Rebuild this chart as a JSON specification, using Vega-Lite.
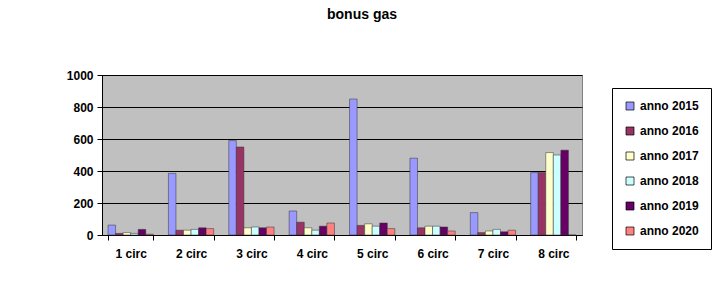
{
  "$schema": "https://vega.github.io/schema/vega-lite/v6.json",
  "autosize": "none",
  "width": 480,
  "height": 160,
  "padding": {"left": 102, "top": 75, "right": 141, "bottom": 48},
  "background": "white",
  "title": {"text": "bonus  gas", "font": "Liberation Sans", "fontSize": 14, "fontWeight": "bold", "color": "black", "anchor": "middle", "dx": 20, "offset": 47},
  "config": {
    "view": {"fill": "#C0C0C0", "stroke": "#808080", "strokeWidth": 1},
    "font": "Liberation Sans"
  },
  "data": {"values": [
    {"circ": "1 circ", "anno": "anno 2015", "v": 62},
    {"circ": "1 circ", "anno": "anno 2016", "v": 10},
    {"circ": "1 circ", "anno": "anno 2017", "v": 15},
    {"circ": "1 circ", "anno": "anno 2018", "v": 10},
    {"circ": "1 circ", "anno": "anno 2019", "v": 35},
    {"circ": "1 circ", "anno": "anno 2020", "v": 5},
    {"circ": "2 circ", "anno": "anno 2015", "v": 385},
    {"circ": "2 circ", "anno": "anno 2016", "v": 30},
    {"circ": "2 circ", "anno": "anno 2017", "v": 30},
    {"circ": "2 circ", "anno": "anno 2018", "v": 35},
    {"circ": "2 circ", "anno": "anno 2019", "v": 45},
    {"circ": "2 circ", "anno": "anno 2020", "v": 40},
    {"circ": "3 circ", "anno": "anno 2015", "v": 590},
    {"circ": "3 circ", "anno": "anno 2016", "v": 550},
    {"circ": "3 circ", "anno": "anno 2017", "v": 45},
    {"circ": "3 circ", "anno": "anno 2018", "v": 50},
    {"circ": "3 circ", "anno": "anno 2019", "v": 45},
    {"circ": "3 circ", "anno": "anno 2020", "v": 50},
    {"circ": "4 circ", "anno": "anno 2015", "v": 150},
    {"circ": "4 circ", "anno": "anno 2016", "v": 80},
    {"circ": "4 circ", "anno": "anno 2017", "v": 45},
    {"circ": "4 circ", "anno": "anno 2018", "v": 30},
    {"circ": "4 circ", "anno": "anno 2019", "v": 55},
    {"circ": "4 circ", "anno": "anno 2020", "v": 75},
    {"circ": "5 circ", "anno": "anno 2015", "v": 850},
    {"circ": "5 circ", "anno": "anno 2016", "v": 60},
    {"circ": "5 circ", "anno": "anno 2017", "v": 70},
    {"circ": "5 circ", "anno": "anno 2018", "v": 55},
    {"circ": "5 circ", "anno": "anno 2019", "v": 75},
    {"circ": "5 circ", "anno": "anno 2020", "v": 40},
    {"circ": "6 circ", "anno": "anno 2015", "v": 480},
    {"circ": "6 circ", "anno": "anno 2016", "v": 45},
    {"circ": "6 circ", "anno": "anno 2017", "v": 55},
    {"circ": "6 circ", "anno": "anno 2018", "v": 55},
    {"circ": "6 circ", "anno": "anno 2019", "v": 50},
    {"circ": "6 circ", "anno": "anno 2020", "v": 25},
    {"circ": "7 circ", "anno": "anno 2015", "v": 140},
    {"circ": "7 circ", "anno": "anno 2016", "v": 15},
    {"circ": "7 circ", "anno": "anno 2017", "v": 25},
    {"circ": "7 circ", "anno": "anno 2018", "v": 35},
    {"circ": "7 circ", "anno": "anno 2019", "v": 20},
    {"circ": "7 circ", "anno": "anno 2020", "v": 30},
    {"circ": "8 circ", "anno": "anno 2015", "v": 390},
    {"circ": "8 circ", "anno": "anno 2016", "v": 390},
    {"circ": "8 circ", "anno": "anno 2017", "v": 515},
    {"circ": "8 circ", "anno": "anno 2018", "v": 500},
    {"circ": "8 circ", "anno": "anno 2019", "v": 530},
    {"circ": "8 circ", "anno": "anno 2020", "v": 0}
  ]},
  "mark": {"type": "bar", "stroke": "#333333", "strokeWidth": 0.5},
  "encoding": {
    "x": {"field": "circ", "type": "nominal", "title": null,
      "scale": {"paddingInner": 0.25, "paddingOuter": 0.1},
      "axis": {"labelAngle": 0, "labelFont": "Liberation Sans", "labelFontSize": 12, "labelFontWeight": "bold", "labelColor": "black", "domainColor": "black", "tickColor": "black", "tickBand": "extent", "labelPadding": 8, "grid": false}},
    "xOffset": {"field": "anno", "type": "nominal", "scale": {"paddingInner": 0}},
    "y": {"field": "v", "type": "quantitative", "title": null,
      "scale": {"domain": [0, 1000]},
      "axis": {"values": [0, 200, 400, 600, 800, 1000], "format": "d", "labelFont": "Liberation Sans", "labelFontSize": 12, "labelFontWeight": "bold", "labelColor": "black", "domainColor": "black", "tickColor": "black", "gridColor": "black", "gridWidth": 1, "labelPadding": 4}},
    "color": {"field": "anno", "type": "nominal", "title": null,
      "scale": {"domain": ["anno 2015", "anno 2016", "anno 2017", "anno 2018", "anno 2019", "anno 2020"], "range": ["#9999FF", "#993366", "#FFFFCC", "#CCFFFF", "#660066", "#FF8080"]},
      "legend": {"orient": "none", "legendX": 510, "legendY": 13, "symbolType": "square", "symbolSize": 64, "symbolStrokeColor": "black", "symbolStrokeWidth": 0.7, "labelFont": "Liberation Sans", "labelFontSize": 12, "labelFontWeight": "bold", "labelColor": "black", "rowPadding": 13, "padding": 12, "strokeColor": "black", "fillColor": "white", "symbolOpacity": 1}}
  }
}
